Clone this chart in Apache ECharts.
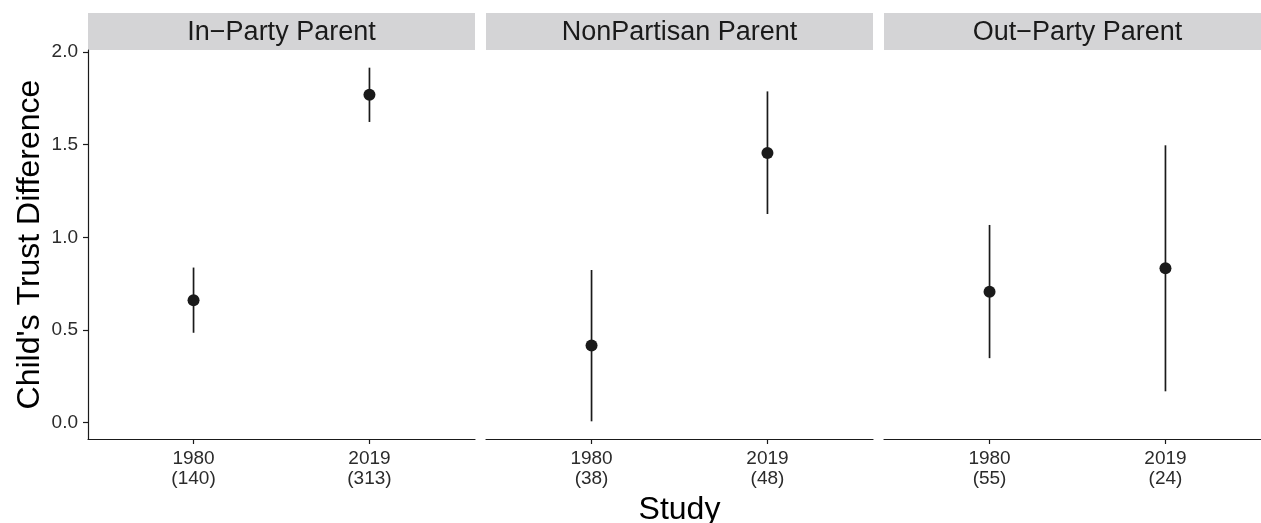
<!DOCTYPE html>
<html>
<head>
<meta charset="utf-8">
<script src="https://cdn.jsdelivr.net/npm/echarts@6/dist/echarts.min.js"></script>
<style>
html,body{margin:0;padding:0;background:#fff;}
#chart{width:1261px;height:523px;}
</style>
</head>
<body>
<div id="chart"></div>
<script>
// ---- data ----
const panels = ['In\u2212Party Parent', 'NonPartisan Parent', 'Out\u2212Party Parent'];
const studies = ['1980', '2019'];
const sampleInParty = [140, 313];
const sampleNonPartisan = [38, 48];
const sampleOutParty = [55, 24];
const estInParty = [0.661, 1.770];
const estNonPartisan = [0.416, 1.456];
const estOutParty = [0.707, 0.833];
const lowInParty = [0.485, 1.623];
const lowNonPartisan = [0.007, 1.126];
const lowOutParty = [0.348, 0.169];
const highInParty = [0.837, 1.916];
const highNonPartisan = [0.824, 1.788];
const highOutParty = [1.067, 1.497];
const yTicks = [0, 0.5, 1.0, 1.5, 2.0];

const samples = [sampleInParty, sampleNonPartisan, sampleOutParty];
const ests = [estInParty, estNonPartisan, estOutParty];
const lows = [lowInParty, lowNonPartisan, lowOutParty];
const highs = [highInParty, highNonPartisan, highOutParty];

// ---- layout ----
const FONT = '"Liberation Sans", Arial, Helvetica, sans-serif';
const INK = '#1a1a1a';
const gridLeft0 = 88, gridStep = 398, gridW = 387, gridTop = 50, gridH = 389;
const stripTop = 13, stripH = 37;

// y extent: data range expanded by 5% (as the source plot does)
const allLo = Math.min(...lows.flat()), allHi = Math.max(...highs.flat());
const span = allHi - allLo;
const yMin = allLo - 0.05 * span, yMax = allHi + 0.05 * span;

const grids = [], xAxes = [], yAxes = [], series = [], graphics = [];
panels.forEach((p, i) => {
  const left = gridLeft0 + i * gridStep;
  grids.push({left: left, top: gridTop, width: gridW, height: gridH,
              containLabel: false, outerBoundsMode: 'none'});
  xAxes.push({
    type: 'value', gridIndex: i, min: 0.4, max: 2.6,
    name: i === 1 ? 'Study' : '',
    nameLocation: 'middle', nameGap: 52,
    nameTextStyle: {fontFamily: FONT, fontSize: 32, color: '#000'},
    axisLine: {show: true, onZero: false, lineStyle: {color: INK, width: 1.2}},
    axisTick: {show: true, length: 5, customValues: [1, 2], lineStyle: {color: INK, width: 1.2}},
    axisLabel: {
      show: true, customValues: [1, 2], margin: 10,
      fontFamily: FONT, fontSize: 19, lineHeight: 20, color: '#2b2b2b',
      formatter: v => studies[Math.round(v) - 1] + '\n(' + samples[i][Math.round(v) - 1] + ')'
    },
    splitLine: {show: false}
  });
  yAxes.push({
    type: 'value', gridIndex: i, min: yMin, max: yMax,
    name: i === 0 ? "Child's Trust Difference" : '',
    nameLocation: 'middle', nameGap: 42, nameRotate: 90,
    nameTextStyle: {fontFamily: FONT, fontSize: 32, color: '#000'},
    axisLine: {show: i === 0, onZero: false, lineStyle: {color: INK, width: 1.2}},
    axisTick: {show: i === 0, length: 5, customValues: yTicks, lineStyle: {color: INK, width: 1.2}},
    axisLabel: {
      show: i === 0, customValues: yTicks, margin: 10,
      fontFamily: FONT, fontSize: 19, color: '#2b2b2b',
      formatter: v => v.toFixed(1)
    },
    splitLine: {show: false}
  });
  series.push({
    type: 'custom', xAxisIndex: i, yAxisIndex: i,
    encode: {x: 0, y: [1, 2]},
    data: studies.map((s, k) => [k + 1, lows[i][k], highs[i][k]]),
    renderItem: (params, api) => {
      const x = api.value(0);
      const a = api.coord([x, api.value(1)]);
      const b = api.coord([x, api.value(2)]);
      return {type: 'line', shape: {x1: a[0], y1: a[1], x2: b[0], y2: b[1]},
              style: {stroke: INK, lineWidth: 1.7}};
    },
    clip: false, z: 2, silent: true
  });
  series.push({
    type: 'scatter', xAxisIndex: i, yAxisIndex: i,
    data: studies.map((s, k) => [k + 1, ests[i][k]]),
    symbol: 'circle', symbolSize: 12,
    itemStyle: {color: INK, opacity: 1},
    z: 3, silent: true
  });
  graphics.push({
    type: 'rect', shape: {x: left, y: stripTop, width: gridW, height: stripH},
    style: {fill: '#d4d4d6'}, silent: true
  });
  graphics.push({
    type: 'text', x: left + gridW / 2, y: stripTop + stripH / 2 + 1,
    style: {text: p, fontFamily: FONT, fontSize: 27, fill: INK, align: 'center', verticalAlign: 'middle'},
    silent: true
  });
});

const chart = echarts.init(document.getElementById('chart'), null, {renderer: 'canvas'});
chart.setOption({
  backgroundColor: '#fff',
  animation: false,
  grid: grids,
  xAxis: xAxes,
  yAxis: yAxes,
  series: series,
  graphic: graphics
});
</script>
</body>
</html>
